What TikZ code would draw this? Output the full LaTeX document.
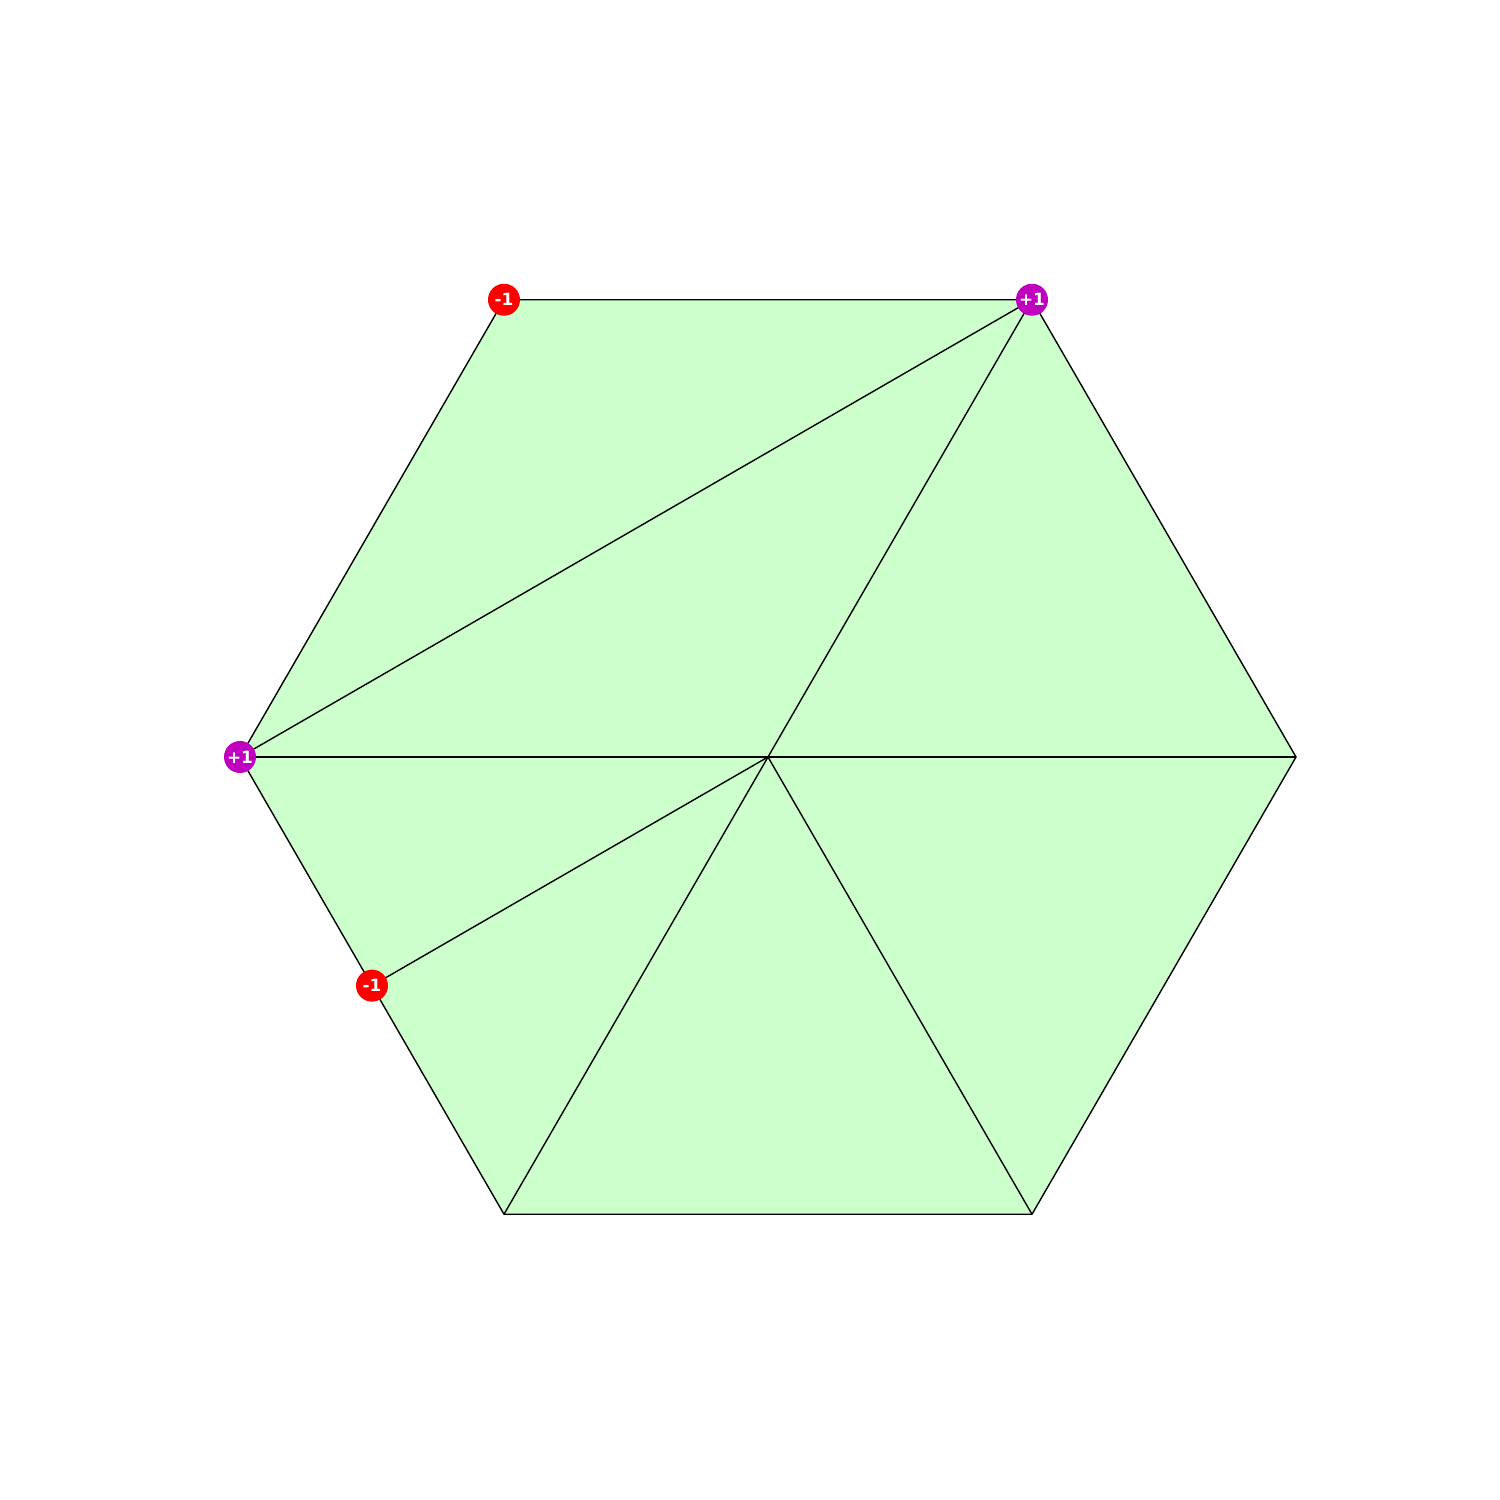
\documentclass[tikz,border=0pt]{standalone}
\usepackage{fontspec}
\setsansfont{DejaVu Sans}
\usepackage{tikz}
\usetikzlibrary{positioning,calc}
\definecolor{facegreen}{HTML}{CCFFCC}
\definecolor{minusred}{HTML}{FF0000}
\definecolor{plusmagenta}{HTML}{BF00BF}

\begin{document}
\begin{tikzpicture}[
  edge/.style={draw=black,line width=0.4pt},
  charge/.style={circle,inner sep=0pt,minimum size=0.32cm,text=white,
                 font=\sffamily\bfseries\fontsize{4.8}{5.5}\selectfont},
  negcharge/.style={charge,fill=minusred},
  poscharge/.style={charge,fill=plusmagenta}
]
\useasboundingbox (0,0) rectangle (15,15);
\coordinate (c) at (7.68,7.43);
\foreach \i in {0,...,5}
  \coordinate (v\i) at ($(c)+(60*\i:5.28)$);
\coordinate (m) at ($(v3)!0.5!(v4)$);
\fill[facegreen] (v0)--(v1)--(v2)--(v3)--(v4)--(v5)--cycle;
\draw[edge] (v0)--(v1)--(v2)--(v3)--(v4)--(v5)--cycle;
\foreach \i in {0,1,3,4,5}
  \draw[edge] (c)--(v\i);
\draw[edge] (v3)--(v1);
\draw[edge] (c)--(m);
\node[negcharge] (n2) at (v2) {-1};
\node[poscharge] (p1) at (v1) {+1};
\node[poscharge] (p3) at (v3) {+1};
\node[negcharge] (nm) at (m) {-1};
\end{tikzpicture}
\end{document}
